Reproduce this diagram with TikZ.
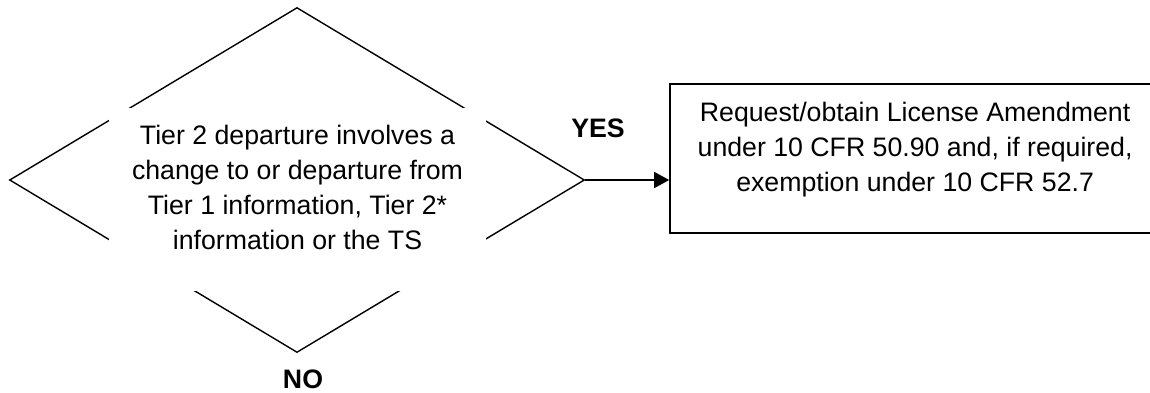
\documentclass[tikz,border=0pt]{standalone}
\usepackage{fontspec}
\setmainfont{Liberation Sans}
\usetikzlibrary{arrows.meta,positioning,shapes.geometric}

\begin{document}
\begin{tikzpicture}
	[x=1pt, y=-1pt, node distance=84pt,
		decision/.style={diamond,draw,line width=1.4pt,minimum width=575pt,minimum height=345pt,inner sep=0pt},
		question/.style={rectangle,fill=white,align=center,minimum width=377pt,inner xsep=0pt,inner ysep=16.5pt,text height=125pt,text depth=25pt,font=\fontsize{26.7}{35}\selectfont},
		action/.style={rectangle,draw,line width=1.8pt,align=center,minimum width=490pt,inner ysep=17.5pt,text height=90pt,text depth=24pt,font=\fontsize{26.7}{35}\selectfont},
		answer/.style={font=\fontsize{26.7}{31}\selectfont\bfseries,inner sep=0pt},
		arrowOut/.style={-{Triangle[length=15pt,width=16pt]},line width=1.5pt}]

	\useasboundingbox (0,0) rectangle (1150,392);
	\node[decision] (dec) at (297,180) {};
	\node[question,anchor=north] (ask) at (297.5,108) {Tier 2 departure involves a\\ change to or departure from\\ Tier 1 information, Tier 2*\\ information or the TS};
	\node[action,right=of dec,yshift=21.5pt] (amend) {Request/obtain License Amendment\\ under 10 CFR 50.90 and, if required,\\ exemption under 10 CFR 52.7};
	\node[answer] (yes) at (598,128) {YES};
	\node[answer,below=16pt of dec,xshift=6pt] (no) {NO};
	\draw[arrowOut] (dec.east) -- (dec.east -| amend.west);
\end{tikzpicture}
\end{document}
